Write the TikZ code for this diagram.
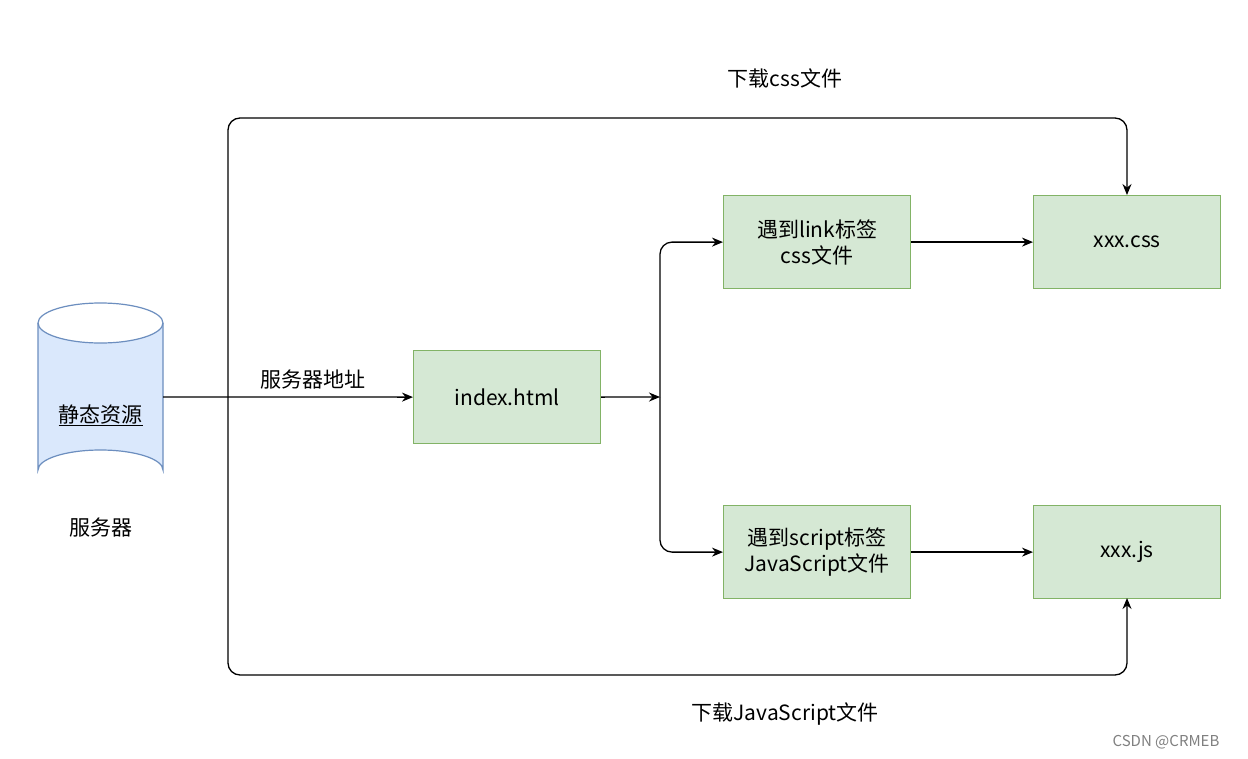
\documentclass[tikz,border=0pt]{standalone}
\usepackage{fontspec}
\setmainfont{Noto Sans CJK SC}
\usetikzlibrary{arrows.meta,shapes.geometric}
\definecolor{gfill}{HTML}{D5E8D4}\definecolor{gline}{HTML}{82B366}
\definecolor{bfill}{HTML}{DAE8FC}\definecolor{bline}{HTML}{6C8EBF}
\tikzset{box/.style={draw=gline,fill=gfill,line width=1.2pt,minimum width=187pt,minimum height=93pt,align=center,font=\fontsize{21}{26}\selectfont,anchor=north west,inner sep=0pt},
lbl/.style={font=\fontsize{21}{26}\selectfont},
conn/.style={line width=1.3pt,-{Stealth[length=11pt,width=9pt]}}}
\begin{document}
\begin{tikzpicture}[x=1pt,y=-1pt]
\useasboundingbox[fill=white] (0,0) rectangle (1248,758);
% cylinder
\fill[bfill] (38,323) -- (38,470) arc[start angle=180,end angle=360,x radius=62.5,y radius=20] -- (163,323) arc[start angle=0,end angle=180,x radius=62.5,y radius=20];
\draw[bline,line width=1.2pt] (38,323) -- (38,470) arc[start angle=180,end angle=360,x radius=62.5,y radius=20] -- (163,323);
\draw[bline,line width=1.2pt] (100.5,323) ellipse[x radius=62.5,y radius=20];
\node[lbl] (db) at (100.5,415) {\underline{静态资源}};
\coordinate (dbr) at (163,397);
\node[lbl] (srv) at (100.5,528) {服务器};
\node[box] (idx) at (413,350) {index.html};
\node[box] (b1) at (723,195) {遇到link标签\\css文件};
\node[box] (b2) at (723,505) {遇到script标签\\JavaScript文件};
\node[box] (css) at (1033,195) {xxx.css};
\node[box] (js) at (1033,505) {xxx.js};
\draw[conn] (dbr) -- (idx.west) node[pos=0.6,above=4pt,lbl,black] {服务器地址};
\coordinate (br) at (660,397);
\draw[conn] (idx.east) -- (br);
\draw[conn,rounded corners=12pt] (br) |- (b1.west);
\draw[conn,rounded corners=12pt] (br) |- (b2.west);
\draw[conn] (b1.east) -- (css.west);
\draw[conn] (b2.east) -- (js.west);
\coordinate (lp) at (228,397);
\coordinate (cssT) at (1127,195);
\coordinate (jsB) at (1127,598);
\draw[conn,rounded corners=12pt] (lp) -- (228,118) -- (1127,118) -- (cssT);
\draw[conn,rounded corners=12pt] (lp) -- (228,675) -- (1127,675) -- (jsB);
\node[lbl] (t1) at (785,78) {下载css文件};
\node[lbl] (t2) at (785,714) {下载JavaScript文件};
\node[font=\fontsize{15}{18}\selectfont,text=gray] (wm) at (1166,742) {CSDN @CRMEB};
\end{tikzpicture}
\end{document}
